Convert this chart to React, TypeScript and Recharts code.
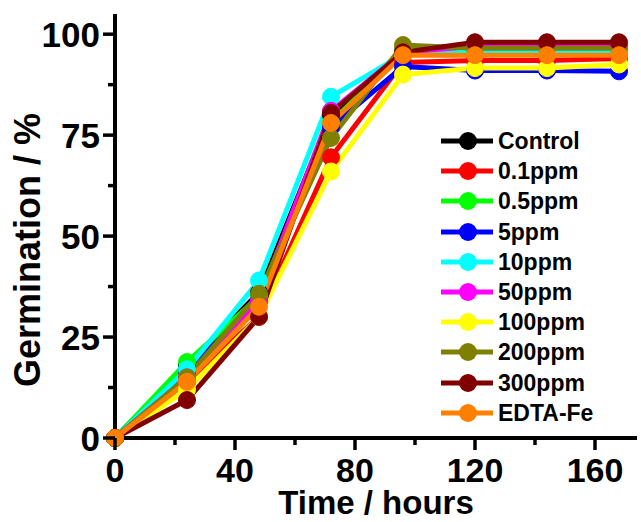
import { LineChart, Line, XAxis, YAxis, Legend } from "recharts"

const TIMES = [0, 24, 48, 72, 96, 120, 144, 168]
const X_TICKS = [0, 20, 40, 60, 80, 100, 120, 140, 160]
const Y_TICKS = [0, 12.5, 25, 37.5, 50, 62.5, 75, 87.5, 100]

const SERIES_NAMES = ["Control", "0.1ppm", "0.5ppm", "5ppm", "10ppm", "50ppm", "100ppm", "200ppm", "300ppm", "EDTA-Fe"]
const SERIES_COLORS = ["#000000", "#ff0000", "#00ff00", "#0000ff", "#00ffff", "#ff00ff", "#ffff00", "#808000", "#800000", "#ff8000"]

const control = [0, 18, 36, 80, 96, 96.5, 96.5, 96.5]
const ppm01 = [0, 14, 30, 69.5, 93, 93.5, 93.5, 94]
const ppm05 = [0, 18.8, 35, 78, 96, 96, 96, 96]
const ppm5 = [0, 16.5, 34, 77, 92, 91, 91, 90.8]
const ppm10 = [0, 17, 39, 84.5, 95, 95.5, 95.5, 95.5]
const ppm50 = [0, 15, 34, 81, 95.5, 97, 97, 97]
const ppm100 = [0, 12, 30, 66, 90, 91.6, 91.6, 92.5]
const ppm200 = [0, 15, 35.7, 74.3, 97.3, 96.5, 96.5, 96.5]
const ppm300 = [0, 9.4, 30, 80.5, 95.5, 98, 98, 98]
const edtaFe = [0, 13.9, 32.5, 78, 94.8, 94.8, 94.8, 94.8]

const SERIES_VALUES = [control, ppm01, ppm05, ppm5, ppm10, ppm50, ppm100, ppm200, ppm300, edtaFe]

const data = TIMES.map((t, i) => {
  const row: Record<string, number> = { t }
  SERIES_VALUES.forEach((vals, k) => {
    row[`s${k}`] = vals[i]
  })
  return row
})

const FONT = "'Liberation Sans', Arial, sans-serif"

const YTick = ({ x, y, payload }: any) => {
  const major = payload.value % 25 === 0
  return (
    <g>
      <line x1={x - (major ? 12 : 7)} x2={x} y1={y} y2={y} stroke="#000" strokeWidth={3.5} />
      {major && (
        <text x={x - 15} y={y} textAnchor="end" dominantBaseline="central" fontFamily={FONT} fontWeight="bold" fontSize={35} fill="#000">
          {payload.value}
        </text>
      )}
    </g>
  )
}

const XTick = ({ x, y, payload }: any) => {
  const major = payload.value % 40 === 0
  return (
    <g>
      <line x1={x} x2={x} y1={y} y2={y + (major ? 12 : 7)} stroke="#000" strokeWidth={3.5} />
      {major && (
        <text x={x} y={y + 44} textAnchor="middle" fontFamily={FONT} fontWeight="bold" fontSize={34} fill="#000">
          {payload.value}
        </text>
      )}
    </g>
  )
}

const LegendBox = () => (
  <div style={{ fontFamily: FONT, fontWeight: "bold", fontSize: 23, color: "#000" }}>
    {SERIES_NAMES.map((name, k) => (
      <div key={name} style={{ display: "flex", alignItems: "center", height: 30.2 }}>
        <svg width={58} height={30} style={{ display: "block" }}>
          <line x1={3} x2={55} y1={15} y2={15} stroke={SERIES_COLORS[k]} strokeWidth={5} />
          <circle cx={30} cy={15} r={9} fill={SERIES_COLORS[k]} />
        </svg>
        <span style={{ marginLeft: 2, lineHeight: "30px" }}>{name}</span>
      </div>
    ))}
  </div>
)

const App = () => {
  return (
    <div style={{ position: "absolute", left: 0, top: 0, background: "#fff" }}>
      <LineChart width={641} height={522} data={data} margin={{ top: 14, right: 4, left: 0, bottom: 0 }}>
        <XAxis
          dataKey="t"
          type="number"
          domain={[0, 174]}
          ticks={X_TICKS}
          tick={<XTick />}
          tickLine={false}
          tickSize={0}
          tickMargin={0}
          height={84}
          axisLine={{ stroke: "#000", strokeWidth: 4 }}
          label={{
            content: ({ viewBox }: any) => (
              <text x={viewBox.x + viewBox.width / 2} y={viewBox.y + 76} textAnchor="middle" fontFamily={FONT} fontWeight="bold" fontSize={33} fill="#000">
                Time / hours
              </text>
            ),
          }}
        />
        <XAxis xAxisId="top" orientation="top" dataKey="t" type="number" domain={[0, 174]} height={0} tick={false} tickLine={false} axisLine={{ stroke: "#000", strokeWidth: 4 }} />
        <YAxis
          type="number"
          domain={[0, 105]}
          ticks={Y_TICKS}
          tick={<YTick />}
          tickLine={false}
          tickSize={0}
          tickMargin={0}
          width={115}
          axisLine={{ stroke: "#000", strokeWidth: 4 }}
          label={{
            content: ({ viewBox }: any) => {
              const cx = 40
              const cy = viewBox.y + viewBox.height / 2 + 24
              return (
                <text x={cx} y={cy} transform={`rotate(-90 ${cx} ${cy})`} textAnchor="middle" fontFamily={FONT} fontWeight="bold" fontSize={36} fill="#000">
                  Germination / %
                </text>
              )
            },
          }}
        />
        <YAxis yAxisId="right" orientation="right" type="number" domain={[0, 105]} width={0} tick={false} tickLine={false} axisLine={{ stroke: "#000", strokeWidth: 4 }} />
        <Legend
          layout="horizontal"
          verticalAlign="middle"
          align="center"
          content={() => <LegendBox />}
          wrapperStyle={{ position: "absolute", left: 438, top: 126, width: 200 }}
        />
        {SERIES_NAMES.map((name, k) => (
          <Line
            key={name}
            type="linear"
            dataKey={`s${k}`}
            name={name}
            stroke={SERIES_COLORS[k]}
            strokeWidth={5}
            dot={{ r: 8.5, fill: SERIES_COLORS[k], stroke: SERIES_COLORS[k], strokeWidth: 1 }}
            activeDot={false}
            isAnimationActive={false}
          />
        ))}
      </LineChart>
    </div>
  )
}

export default App
